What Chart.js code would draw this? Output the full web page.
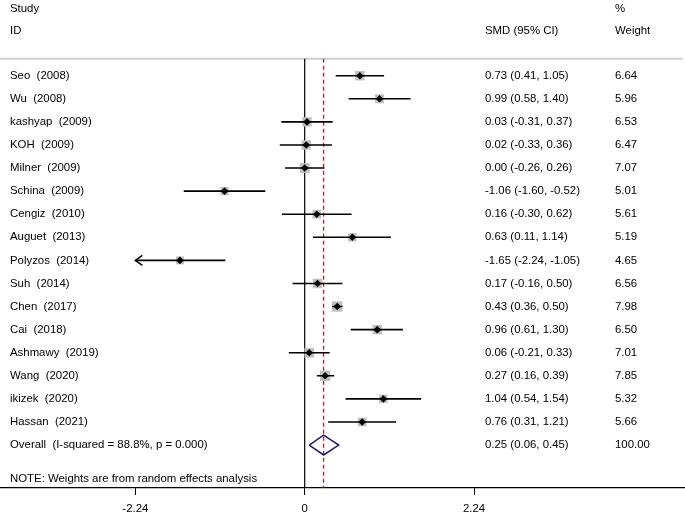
<!DOCTYPE html>
<html>
<head>
<meta charset="utf-8">
<script src="https://cdn.jsdelivr.net/npm/chart.js@4/dist/chart.umd.min.js"></script>
<style>
  body { margin: 0; background: #fff; }
  #wrap { width: 685px; height: 515px; position: relative; }
</style>
</head>
<body>
<div id="wrap"><canvas id="forest"></canvas></div>
<script>
// datos del forest plot
const studies = ['Seo', 'Wu', 'kashyap', 'KOH', 'Milner', 'Schina', 'Cengiz', 'Auguet',
                 'Polyzos', 'Suh', 'Chen', 'Cai', 'Ashmawy', 'Wang', 'ikizek', 'Hassan'];
const years = [2008, 2008, 2009, 2009, 2009, 2009, 2010, 2013, 2014, 2014, 2017, 2018, 2019, 2020, 2020, 2021];
const smd = [0.73, 0.99, 0.03, 0.02, 0.00, -1.06, 0.16, 0.63, -1.65, 0.17, 0.43, 0.96, 0.06, 0.27, 1.04, 0.76];
const ciLow = [0.41, 0.58, -0.31, -0.33, -0.26, -1.60, -0.30, 0.11, -2.24, -0.16, 0.36, 0.61, -0.21, 0.16, 0.54, 0.31];
const ciHigh = [1.05, 1.40, 0.37, 0.36, 0.26, -0.52, 0.62, 1.14, -1.05, 0.50, 0.50, 1.30, 0.33, 0.39, 1.54, 1.21];
const weights = [6.64, 5.96, 6.53, 6.47, 7.07, 5.01, 5.61, 5.19, 4.65, 6.56, 7.98, 6.50, 7.01, 7.85, 5.32, 5.66];
const overall = { est: 0.25, low: 0.06, high: 0.45, weight: 100.00, label: 'Overall  (I-squared = 88.8%, p = 0.000)' };
const xTicks = [-2.24, 0, 2.24];
const axisClip = -2.24;

const FAMILY = '"Liberation Sans", Arial, sans-serif';
const FONT = '11.4px ' + FAMILY;
const overallRow = studies.length;

// lineas de IC separadas por huecos
const ciData = [];
studies.forEach((s, i) => {
    ciData.push({ x: Math.max(ciLow[i], axisClip), y: i });
    ciData.push({ x: ciHigh[i], y: i });
    ciData.push({ x: null, y: null });
});

const fmt = v => v.toFixed(2);

const forestText = {
    id: 'forestText',
    beforeDatasetsDraw(chart) {
        const { ctx, scales: { x, y }, chartArea } = chart;
        const top = y.getPixelForValue(-0.74);
        ctx.save();
        // linea gris bajo la cabecera
        ctx.strokeStyle = '#cfcfcf';
        ctx.lineWidth = 2;
        ctx.beginPath();
        ctx.moveTo(0, top);
        ctx.lineTo(683, top);
        ctx.stroke();
        // linea del cero
        ctx.strokeStyle = '#000';
        ctx.lineWidth = 1.2;
        ctx.beginPath();
        ctx.moveTo(x.getPixelForValue(0), top);
        ctx.lineTo(x.getPixelForValue(0), chartArea.bottom);
        ctx.stroke();
        // linea del efecto global
        ctx.strokeStyle = '#b22228';
        ctx.lineWidth = 1.3;
        ctx.setLineDash([4, 3]);
        ctx.beginPath();
        ctx.moveTo(x.getPixelForValue(overall.est), top);
        ctx.lineTo(x.getPixelForValue(overall.est), chartArea.bottom);
        ctx.stroke();
        ctx.restore();
    },
    afterDatasetsDraw(chart) {
        const { ctx, scales: { x, y } } = chart;
        ctx.save();
        // flecha para IC recortado
        ctx.strokeStyle = '#000';
        ctx.lineWidth = 1.5;
        studies.forEach((s, i) => {
            if (ciLow[i] <= axisClip) {
                const px = x.getPixelForValue(axisClip);
                const py = y.getPixelForValue(i);
                ctx.beginPath();
                ctx.moveTo(px + 7, py - 5);
                ctx.lineTo(px, py);
                ctx.lineTo(px + 7, py + 5);
                ctx.stroke();
            }
        });
        ctx.fillStyle = '#000';
        ctx.font = FONT;
        ctx.textBaseline = 'middle';
        ctx.textAlign = 'left';
        ctx.fillText('Study', 10, y.getPixelForValue(-2.9));
        ctx.fillText('ID', 10, y.getPixelForValue(-1.95));
        ctx.fillText('SMD (95% CI)', 485, y.getPixelForValue(-1.95));
        ctx.fillText('%', 615, y.getPixelForValue(-2.9));
        ctx.fillText('Weight', 615, y.getPixelForValue(-1.95));
        studies.forEach((s, i) => {
            const py = y.getPixelForValue(i);
            ctx.fillText(s + '  (' + years[i] + ')', 10, py);
            ctx.fillText(fmt(smd[i]) + ' (' + fmt(ciLow[i]) + ', ' + fmt(ciHigh[i]) + ')', 485, py);
            ctx.fillText(fmt(weights[i]), 615, py);
        });
        const oy = y.getPixelForValue(overallRow);
        ctx.fillText(overall.label, 10, oy);
        ctx.fillText(fmt(overall.est) + ' (' + fmt(overall.low) + ', ' + fmt(overall.high) + ')', 485, oy);
        ctx.fillText(fmt(overall.weight), 615, oy);
        ctx.fillText('NOTE: Weights are from random effects analysis', 10, y.getPixelForValue(overallRow + 1.45));
        ctx.restore();
    }
};

new Chart(document.getElementById('forest'), {
    type: 'scatter',
    data: {
        datasets: [
            {
                // cuadrados grises (peso)
                data: studies.map((s, i) => ({ x: smd[i], y: i })),
                pointStyle: 'rect',
                pointRadius: weights.map(w => 2.6 * Math.sqrt(w)),
                backgroundColor: '#c0c0c0',
                borderWidth: 0,
                order: 3
            },
            {
                // intervalos de confianza
                data: ciData,
                showLine: true,
                spanGaps: false,
                borderColor: '#000',
                borderWidth: 1.6,
                pointRadius: 0,
                order: 2
            },
            {
                // estimacion puntual
                data: studies.map((s, i) => ({ x: smd[i], y: i })),
                pointStyle: 'rectRot',
                pointRadius: 3.8,
                backgroundColor: '#000',
                borderWidth: 0,
                order: 1
            },
            {
                // rombo global
                data: [
                    { x: overall.low, y: overallRow },
                    { x: overall.est, y: overallRow - 0.43 },
                    { x: overall.high, y: overallRow },
                    { x: overall.est, y: overallRow + 0.43 },
                    { x: overall.low, y: overallRow }
                ],
                showLine: true,
                borderColor: '#1c1c78',
                borderWidth: 1.5,
                pointRadius: 0,
                order: 0
            }
        ]
    },
    options: {
        responsive: true,
        maintainAspectRatio: false,
        animation: false,
        layout: { autoPadding: false, padding: 0 },
        plugins: { legend: { display: false }, tooltip: { enabled: false } },
        scales: {
            x: {
                type: 'linear',
                min: -4.03,
                max: 5.03,
                afterBuildTicks: scale => { scale.ticks = xTicks.map(v => ({ value: v })); },
                afterFit: scale => { scale.height = 27; },
                ticks: {
                    callback: v => (v === 0 ? '0' : v.toFixed(2)),
                    color: '#000',
                    font: { family: FAMILY, size: 11.4 },
                    padding: 7,
                    maxRotation: 0
                },
                grid: { drawOnChartArea: false, drawTicks: true, tickLength: 7, color: '#000' },
                border: { display: true, color: '#000', width: 1.2 }
            },
            y: {
                type: 'linear',
                display: false,
                reverse: true,
                min: -3.28,
                max: 17.86
            }
        }
    },
    plugins: [forestText]
});
</script>
</body>
</html>
